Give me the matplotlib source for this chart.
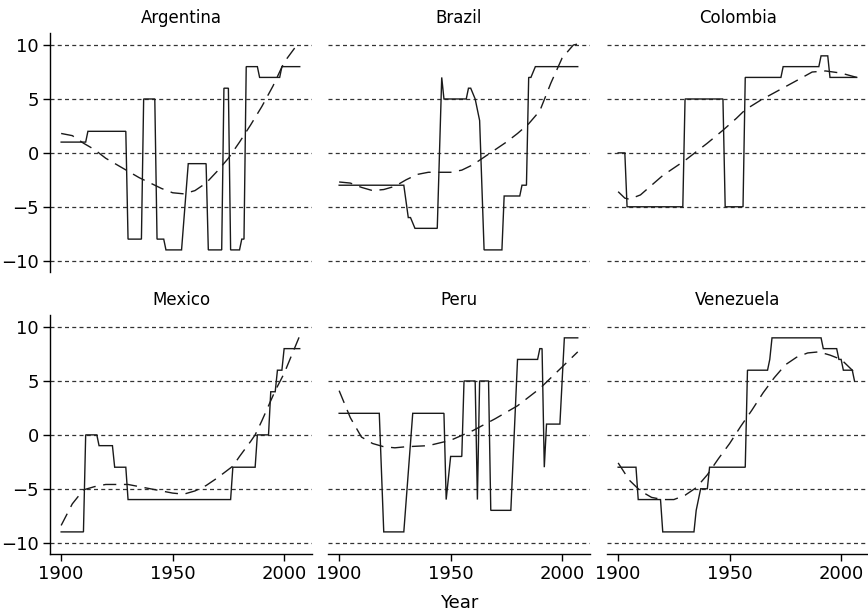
import numpy as np
import matplotlib
matplotlib.use("Agg")
import matplotlib.pyplot as plt

plt.rcParams['font.family'] = ['DejaVu Sans']

# ---- polity scores: runs of (first year, last year, score) ----
arg_start = [1900, 1912, 1930, 1937, 1943, 1947, 1957, 1966, 1973, 1976, 1981, 1983, 1989, 1999]
arg_end   = [1911, 1929, 1936, 1942, 1946, 1954, 1965, 1972, 1975, 1980, 1982, 1988, 1998, 2007]
arg_score = [1, 2, -8, 5, -8, -9, -1, -9, 6, -9, -8, 8, 7, 8]

bra_start = [1900, 1931, 1934, 1946, 1947, 1958, 1961, 1963, 1965, 1974, 1982, 1985, 1988]
bra_end   = [1929, 1932, 1944, 1946, 1957, 1959, 1961, 1963, 1973, 1981, 1984, 1986, 2007]
bra_score = [-3, -6, -7, 7, 5, 6, 5, 3, -9, -4, -3, 7, 8]

col_start = [1900, 1904, 1930, 1948, 1957, 1974, 1991, 1995]
col_end   = [1903, 1929, 1947, 1956, 1973, 1990, 1994, 2007]
col_score = [0, -5, 5, -5, 7, 8, 9, 7]

mex_start = [1900, 1911, 1917, 1924, 1930, 1977, 1988, 1994, 1997, 2000]
mex_end   = [1910, 1916, 1923, 1929, 1976, 1987, 1993, 1996, 1999, 2007]
mex_score = [-9, 0, -1, -3, -6, -3, 0, 4, 6, 8]

per_start = [1900, 1920, 1933, 1948, 1950, 1956, 1962, 1963, 1968, 1980, 1990, 1992, 1993, 2001]
per_end   = [1918, 1929, 1947, 1948, 1955, 1961, 1962, 1967, 1977, 1989, 1991, 1992, 1999, 2007]
per_score = [2, -9, 2, -6, -2, 5, -6, 5, -7, 7, 8, -3, 1, 9]

ven_start = [1900, 1909, 1920, 1935, 1937, 1941, 1958, 1968, 1969, 1992, 1999, 2001, 2006]
ven_end   = [1908, 1919, 1934, 1935, 1940, 1957, 1967, 1968, 1991, 1998, 2000, 2005, 2006]
ven_score = [-3, -6, -9, -7, -5, -3, 6, 7, 9, 8, 7, 6, 5]

# ---- smoothed trend (dashed) ----
arg_fit_year = [1900, 1905, 1910, 1915, 1920, 1925, 1930, 1935, 1940, 1945, 1950, 1955,
                1960, 1965, 1970, 1975, 1980, 1985, 1990, 1995, 2000, 2005, 2007]
arg_fit = [1.8, 1.6, 0.9, 0.3, -0.5, -1.1, -1.7, -2.3, -2.8, -3.3, -3.7, -3.8,
           -3.5, -2.8, -1.7, -0.5, 1.0, 2.6, 4.3, 6.2, 8.4, 9.8, 10.1]

bra_fit_year = [1900, 1905, 1910, 1915, 1920, 1925, 1930, 1935, 1940, 1945, 1950, 1955,
                1960, 1965, 1970, 1975, 1980, 1985, 1990, 1995, 2000, 2005, 2007]
bra_fit = [-2.7, -2.8, -3.2, -3.5, -3.4, -3.1, -2.5, -2.0, -1.8, -1.8, -1.8, -1.6,
           -1.1, -0.4, 0.3, 1.0, 1.8, 2.7, 3.9, 6.5, 8.8, 10.0, 10.1]

col_fit_year = [1900, 1903, 1905, 1910, 1915, 1920, 1925, 1930, 1935, 1940, 1947,
                1953, 1957, 1964, 1972, 1980, 1987, 1993, 2000, 2007]
col_fit = [-3.6, -4.2, -4.3, -3.9, -3.0, -2.1, -1.4, -0.7, 0.1, 0.9, 2.1,
           3.2, 4.0, 4.9, 5.8, 6.7, 7.5, 7.6, 7.4, 7.0]

mex_fit_year = [1900, 1905, 1910, 1915, 1920, 1930, 1940, 1950, 1955, 1960, 1965, 1970,
                1977, 1980, 1985, 1987, 1990, 1996, 2000, 2004, 2008]
mex_fit = [-8.4, -6.4, -5.1, -4.8, -4.6, -4.6, -5.0, -5.4, -5.5, -5.2, -4.7, -4.0,
           -2.9, -2.0, -0.6, 0.0, 1.3, 4.1, 5.7, 7.7, 9.7]

per_fit_year = [1900, 1905, 1910, 1915, 1920, 1925, 1930, 1940, 1950, 1960, 1970, 1980, 1990, 2000, 2007]
per_fit = [4.1, 1.6, -0.2, -0.8, -1.1, -1.2, -1.1, -1.0, -0.5, 0.4, 1.5, 2.7, 4.3, 6.3, 7.7]

ven_fit_year = [1900, 1905, 1910, 1915, 1920, 1925, 1930, 1935, 1940, 1945, 1950, 1955,
                1960, 1965, 1970, 1975, 1980, 1985, 1990, 1995, 2000, 2006]
ven_fit = [-2.6, -4.2, -5.2, -5.8, -6.0, -6.0, -5.6, -4.9, -3.7, -2.2, -0.8, 0.8,
           2.3, 3.9, 5.3, 6.5, 7.2, 7.6, 7.7, 7.4, 7.0, 5.8]

countries = ["Argentina", "Brazil", "Colombia", "Mexico", "Peru", "Venezuela"]
runs = [(arg_start, arg_end, arg_score), (bra_start, bra_end, bra_score),
        (col_start, col_end, col_score), (mex_start, mex_end, mex_score),
        (per_start, per_end, per_score), (ven_start, ven_end, ven_score)]
fits = [(arg_fit_year, arg_fit), (bra_fit_year, bra_fit), (col_fit_year, col_fit),
        (mex_fit_year, mex_fit), (per_fit_year, per_fit), (ven_fit_year, ven_fit)]

y_ticks = [-10, -5, 0, 5, 10]
x_ticks = [1900, 1950, 2000]

W, H = 868, 615
fig = plt.figure(figsize=(W / 100, H / 100), dpi=100)

lefts = [50, 328, 607]
tops = [33, 315]
pw, ph = 262, 239

for i, name in enumerate(countries):
    row, col = divmod(i, 3)
    ax = fig.add_axes([lefts[col] / W, 1 - (tops[row] + ph) / H, pw / W, ph / H])

    starts, ends, scores = runs[i]
    xs, ys = [], []
    for s, e, v in zip(starts, ends, scores):
        xs += [s, e]
        ys += [v, v]
    ax.plot(xs, ys, color="#1a1a1a", lw=1.0, solid_joinstyle="miter")

    fy, fv = fits[i]
    ax.plot(fy, fv, color="#1a1a1a", lw=1.0, dashes=(9.5, 5.5))

    for yv in y_ticks:
        ax.axhline(yv, color="#333333", lw=0.9, dashes=(3.2, 2.6), zorder=0)

    ax.set_xlim(1895, 2012.5)
    ax.set_ylim(-11.05, 11.12)
    for sp in ax.spines.values():
        sp.set_visible(False)
    ax.set_title(name, fontsize=12, pad=7)

    if col == 0:
        ax.spines["left"].set_visible(True)
        ax.spines["left"].set_linewidth(1.0)
        ax.set_yticks(y_ticks)
        ax.set_yticklabels(["\u221210", "\u22125", "0", "5", "10"])
    else:
        ax.set_yticks([])
    if row == 1:
        ax.spines["bottom"].set_visible(True)
        ax.spines["bottom"].set_linewidth(1.0)
        ax.set_xticks(x_ticks)
    else:
        ax.set_xticks([])
    ax.tick_params(direction="out", length=5, width=1.0, labelsize=13, pad=3)

# x label sits under the middle column
fig.text(459 / W, 1 - 603 / H, "Year", ha="center", va="center", fontsize=13)

fig.savefig("out.png", dpi=100)
